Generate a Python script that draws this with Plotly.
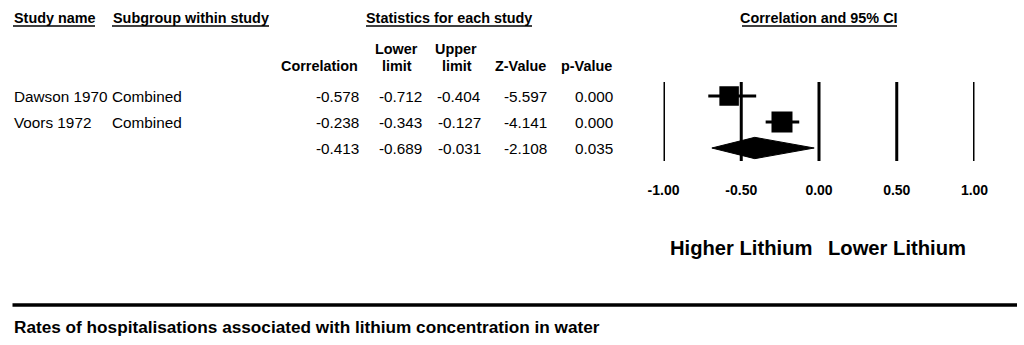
import plotly.graph_objects as go

# ---------------- data ----------------
studies = ["Dawson 1970", "Voors 1972"]
subgroups = ["Combined", "Combined"]
correlation = [-0.578, -0.238]
lower_limit = [-0.712, -0.343]
upper_limit = [-0.404, -0.127]
z_value = [-5.597, -4.141]
p_value = [0.000, 0.000]

pooled_correlation = -0.413
pooled_lower = -0.689
pooled_upper = -0.031
pooled_z = -2.108
pooled_p = 0.035

axis_ticks = [-1.0, -0.5, 0.0, 0.5, 1.0]
favours_left = "Higher Lithium"
favours_right = "Lower Lithium"
footer_text = "Rates of hospitalisations associated with lithium concentration in water"

# ---------------- layout constants (pixels) ----------------
W, H = 1024, 345
FONT = "Arial, Liberation Sans, sans-serif"
ROW0_PX = 96          # centre of first study row
ROW_STEP = 26         # pixels between rows
AX_LEFT, AX_RIGHT = 663.5, 974.5   # pixel position of -1 and +1
BODY_SIZE = 15.3
HEAD_SIZE = 14.4

def px(x):
    return x / W

def py(y):
    return 1 - y / H

y_bottom = (H - ROW0_PX) / ROW_STEP
y_top = -ROW0_PX / ROW_STEP

fig = go.Figure()

# vertical reference lines at each tick
vx, vy = [], []
for t in axis_ticks:
    vx += [t, t, None]
    vy += [-0.54, 2.5, None]
fig.add_trace(go.Scatter(x=vx, y=vy, mode="lines",
                         line=dict(color="black", width=3), hoverinfo="skip"))

# confidence interval whiskers
cx, cy = [], []
for i, (lo, hi) in enumerate(zip(lower_limit, upper_limit)):
    cx += [lo, hi, None]
    cy += [i, i, None]
fig.add_trace(go.Scatter(x=cx, y=cy, mode="lines",
                         line=dict(color="black", width=3), hoverinfo="skip"))

# study point estimates (square size reflects weight)
fig.add_trace(go.Scatter(x=correlation, y=list(range(len(studies))), mode="markers",
                         marker=dict(symbol="square", size=[19.5, 21], color="black",
                                     opacity=1, line=dict(width=0))))

# pooled estimate diamond
prow = len(studies)
half_h = 0.41
fig.add_trace(go.Scatter(
    x=[pooled_lower, pooled_correlation, pooled_upper, pooled_correlation, pooled_lower],
    y=[prow, prow - half_h, prow, prow + half_h, prow],
    mode="lines", fill="toself", fillcolor="black",
    line=dict(color="black", width=1), hoverinfo="skip"))

annotations = []
shapes = []

def text(x, y, s, anchor="left", size=BODY_SIZE, bold=False, yref="paper"):
    annotations.append(dict(
        x=px(x), y=(y if yref == "y" else py(y)), xref="paper", yref=yref,
        text=(f"<b>{s}</b>" if bold else s), showarrow=False,
        xanchor=anchor, yanchor="middle", borderpad=0,
        font=dict(family=FONT, size=size, color="black")))

# section headers with underlines
text(12.5, 18, "Study name", "left", HEAD_SIZE, True)
text(111.5, 18, "Subgroup within study", "left", HEAD_SIZE, True)
text(449, 18, "Statistics for each study", "center", HEAD_SIZE, True)
text((AX_LEFT + AX_RIGHT) / 2, 18, "Correlation and 95% CI", "center", HEAD_SIZE, True)
for x0, x1 in [(13, 95), (112, 269), (366, 532), (742, 897)]:
    shapes.append(dict(type="line", xref="paper", yref="paper",
                       x0=px(x0), x1=px(x1), y0=py(26), y1=py(26),
                       line=dict(color="black", width=1.5)))

# column headers
text(358.5, 66, "Correlation", "right", HEAD_SIZE, True)
text(396, 49, "Lower", "center", HEAD_SIZE, True)
text(396.5, 66, "limit", "center", HEAD_SIZE, True)
text(456, 49, "Upper", "center", HEAD_SIZE, True)
text(457, 66, "limit", "center", HEAD_SIZE, True)
text(547, 66, "Z-Value", "right", HEAD_SIZE, True)
text(612.5, 66, "p-Value", "right", HEAD_SIZE, True)

# table body
col_right = [360, 423, 481.5, 547.5, 614]
rows = [[c, lo, hi, z, p] for c, lo, hi, z, p in
        zip(correlation, lower_limit, upper_limit, z_value, p_value)]
rows.append([pooled_correlation, pooled_lower, pooled_upper, pooled_z, pooled_p])
for i, vals in enumerate(rows):
    for xr, v in zip(col_right, vals):
        text(xr, i, f"{v:.3f}", "right", BODY_SIZE, False, yref="y")
for i, (s, g) in enumerate(zip(studies, subgroups)):
    text(12.5, i, s, "left", BODY_SIZE, False, yref="y")
    text(111, i, g, "left", BODY_SIZE, False, yref="y")

# favours labels
text(813, 248, favours_left, "right", 20.2, True)
text(827, 248, favours_right, "left", 20.2, True)

# bottom rule and footer
shapes.append(dict(type="line", xref="paper", yref="paper",
                   x0=px(12.5), x1=px(1017), y0=py(305), y1=py(305),
                   line=dict(color="black", width=3.5)))
text(12.5, 327, footer_text, "left", 17.2, True)

fig.update_layout(
    template="none",
    width=W, height=H,
    margin=dict(l=0, r=0, t=0, b=0, pad=0, autoexpand=False),
    paper_bgcolor="white", plot_bgcolor="white",
    showlegend=False,
    annotations=annotations, shapes=shapes,
    xaxis=dict(domain=[px(AX_LEFT), px(AX_RIGHT)], range=[-1, 1],
               anchor="free", position=py(180), automargin=False,
               tickvals=axis_ticks, ticktext=[f"{t:.2f}" for t in axis_ticks],
               tickfont=dict(family=FONT, size=14, color="black", weight="bold"),
               showgrid=False, zeroline=False, showline=False, ticks=""),
    yaxis=dict(domain=[0, 1], range=[y_bottom, y_top], visible=False,
               automargin=False, showgrid=False, zeroline=False),
)

fig.write_html("out.html", config={"displayModeBar": False})
